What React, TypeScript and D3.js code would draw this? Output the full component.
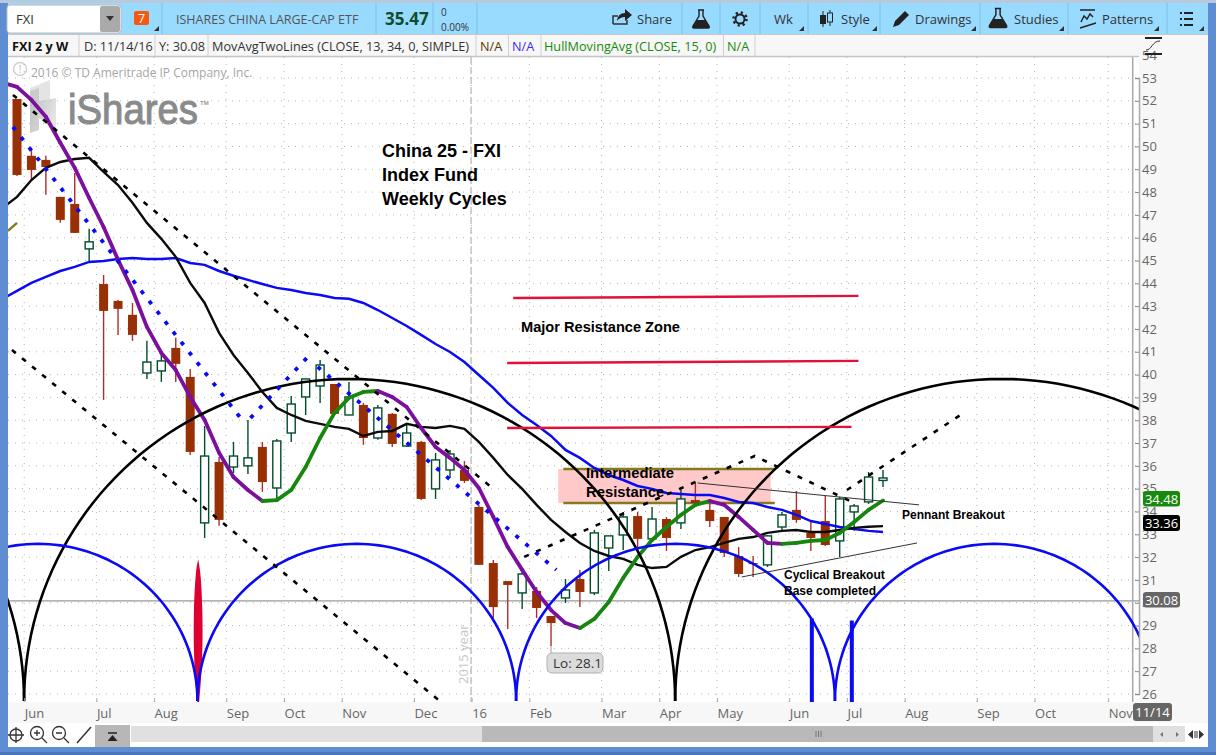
import React, { useEffect, useRef } from 'react';
import * as d3 from 'd3';

// weekly bars, week 0 = first bar on screen
const opens = [52.08,49.59,49.41,47.79,47.48,45.51,43.97,43.23,42.62,40.07,40.16,41.17,39.90,33.50,36.17,35.95,36.00,36.83,35.03,37.44,39.02,39.50,39.59,38.23,38.67,37.22,38.28,36.87,37.05,34.99,35.82,35.82,34.20,31.74,30.95,30.43,30.52,29.42,30.21,31.04,30.43,32.40,32.97,33.80,32.80,33.67,33.50,34.50,34.07,33.76,32.05,31.74,31.66,33.32,34.07,33.06,33.58,32.71,33.98,34.42,35.36];
const highs = [52.08,49.89,49.59,47.79,48.84,46.39,44.37,43.27,43.14,41.48,40.95,41.61,40.25,37.75,36.39,37.05,38.01,37.05,37.18,39.06,39.81,40.64,39.59,39.68,38.76,38.67,38.32,37.84,37.09,36.57,36.70,36.21,34.29,31.87,30.95,31.44,30.69,29.42,31.04,31.44,33.19,32.93,33.98,33.98,34.20,33.76,35.07,35.25,34.50,33.76,32.44,32.05,32.97,33.98,34.90,33.54,34.68,34.64,34.33,35.73,35.82];
const lows = [48.71,48.53,47.88,46.65,46.21,44.94,38.89,41.74,41.48,39.81,39.68,39.68,36.48,32.84,33.37,35.69,35.64,34.86,34.42,37.05,38.23,38.76,38.28,38.23,36.92,37.14,36.83,36.83,34.50,34.55,35.47,35.25,31.66,29.33,28.85,29.73,29.33,28.10,29.99,29.81,30.34,31.39,32.31,32.40,32.80,32.27,33.23,34.37,33.32,32.01,31.13,31.13,31.57,33.10,33.50,32.27,32.49,32.01,33.15,34.33,35.07];
const closes = [48.75,48.97,49.10,46.78,46.21,45.82,42.79,42.88,41.74,40.55,40.60,40.47,36.61,36.43,33.63,36.43,36.35,35.29,37.09,38.71,39.81,40.42,38.28,39.02,37.22,38.54,36.96,37.44,34.55,36.26,36.52,35.34,31.66,29.81,30.78,31.26,29.77,29.11,30.56,30.47,33.06,32.93,33.76,32.80,33.67,32.84,34.55,34.37,33.58,32.18,31.26,31.70,32.93,33.85,33.63,32.84,32.53,34.55,34.24,35.51,35.47];

// studies start one week before the first bar
const hullValues = [52.79,52.61,52.04,51.30,50.16,49.06,47.74,46.47,45.03,43.71,42.09,40.95,40.20,39.02,38.01,36.57,35.51,34.94,34.46,34.50,34.94,35.95,37.22,38.32,38.98,39.24,39.28,39.02,38.58,37.66,36.83,36.35,35.82,35.03,33.76,32.44,31.44,30.47,29.68,29.11,28.89,29.29,30.03,31.09,32.01,32.75,33.32,33.85,34.29,34.46,34.29,33.76,33.19,32.62,32.58,32.62,32.71,32.75,33.06,33.54,34.07,34.48];
const ma13Values = [47.31,47.79,48.53,49.06,49.32,49.45,49.50,48.88,48.31,47.53,46.65,45.95,45.16,44.02,43.14,41.83,40.86,40.07,39.24,38.54,38.23,37.97,37.84,37.71,37.62,37.31,37.49,37.53,37.84,37.71,37.66,37.75,37.62,37.05,36.35,35.60,34.99,34.29,33.63,33.10,32.62,32.27,32.05,31.92,31.66,31.52,31.57,32.01,32.31,32.44,32.62,32.80,32.88,33.06,33.15,33.19,33.10,33.10,33.19,33.28,33.33,33.36];
const ma34Values = [43.32,43.67,44.02,44.28,44.54,44.72,44.94,44.98,45.07,45.11,45.07,45.07,45.11,44.89,44.81,44.54,44.33,44.15,43.97,43.80,43.71,43.58,43.49,43.36,43.32,43.14,42.83,42.48,42.13,41.74,41.34,40.99,40.55,39.98,39.42,38.76,38.23,37.79,37.31,36.70,36.35,35.91,35.60,35.38,35.12,34.99,34.81,34.77,34.72,34.72,34.59,34.42,34.37,34.20,34.07,33.85,33.58,33.45,33.32,33.23,33.15,33.10];

const priceTicks = d3.range(26, 55);
const monthWeeks = [0.5,5.5,9.5,14.5,18.5,22.5,27.5,31.5,35.5,40.5,44.5,48.5,53.5,57.5,61.5,66.5,70.5,75.6];
const monthLabels = ['Jun','Jul','Aug','Sep','Oct','Nov','Dec','16','Feb','Mar','Apr','May','Jun','Jul','Aug','Sep','Oct','Nov'];

// drawings, as [week, price]
const channelUpper = [[-0.28,52.26],[32.85,35.07]];
const channelLower = [[-0.35,41.08],[29.38,25.65]];
const dashedTent = [[35.14,32.01],[51.11,36.43],[57.85,34.42]];
const dashedBreakout = [[57.5,34.94],[65.49,38.28]];
const dottedDown = [[-0.28,50.86],[15.49,38.10]];
const dottedUp = [[16.18,38.10],[20.14,40.77]];
const dottedDown2 = [[20.83,40.34],[37.36,31.44]];
const pennantTop = [[47.15,35.25],[62.5,34.29]];
const pennantBottom = [[50.21,31.13],[62.36,32.62]];
const oliveStub = [[-0.63,46.30],[0,46.65]];
const resistanceLines = [
  [[34.38,43.36],[58.3,43.45]],
  [[33.96,40.51],[58.3,40.60]],
  [[33.96,37.66],[57.82,37.71]],
];
const zoneWeeks = [37.5, 52.22];
const zoneEdgeWeeks = [37.85, 52.5];
const zonePrices = [35.86, 34.37];

// cycles: trough weeks, top of arc in price
const arcBase = 25.69;
const blueTroughs = [-9.58, 12.5, 34.58, 56.67, 78.75];
const bluePeak = 32.58;
const blackTroughs = [-44.6, 0.49, 45.6, 90.8];
const blackPeak = 39.81;
// cycle low markers: week, top price
const blueSpikes = [[55.07,29.31],[57.84,29.22]];
const redSpike = [12.55,31.9];

const yearLineWeek = 31.46;
const crossPrice = 30.08;
const lowWeek = 37;
const lowPrice = 28.1;
const lastWeek = 77.3;

const uiFont = '"Open Sans", sans-serif';
const noteFont = '"Liberation Sans", Arial, sans-serif';

const Triangle = ({ x, y }: { x: number; y: number }) => (
  <path d={`M${x},${y} l5,0 l0,-5 z`} fill="#333" />
);

const Flask = ({ x, y, s = 1 }: { x: number; y: number; s?: number }) => (
  <g transform={`translate(${x},${y}) scale(${s})`}>
    <path d="M-3,-9 h6 M-2,-9 v6 l-6,10 q-1,2 1,2 h14 q2,0 1,-2 l-6,-10 v-6" fill="none" stroke="#222" strokeWidth={1.4} />
    <path d="M-4,1 h8 l4,6 q1,2 -1,2 h-14 q-2,0 -1,-2 z" fill="#222" />
  </g>
);

export default function App() {
  const gRef = useRef<SVGGElement>(null);

  useEffect(() => {
    if (!gRef.current) return;
    const root = d3.select(gRef.current);
    root.selectAll('*').remove();

    const x = d3.scaleLinear().domain([0, 60]).range([17, 883]);
    const y = d3.scaleLinear().domain([26, 53]).range([694, 78]);
    const plot = root.append('g').attr('clip-path', 'url(#plot-clip)');

    // dotted grid
    plot.append('g').selectAll('line').data(priceTicks).join('line')
      .attr('x1', 8).attr('x2', 1139)
      .attr('y1', d => y(d)).attr('y2', d => y(d))
      .attr('stroke', '#b5b5b5').attr('stroke-dasharray', '1,6');
    plot.append('g').selectAll('line').data(monthWeeks).join('line')
      .attr('x1', d => x(d)).attr('x2', d => x(d))
      .attr('y1', 57).attr('y2', 702)
      .attr('stroke', '#b5b5b5').attr('stroke-dasharray', '1,6');

    // year divider
    plot.append('line')
      .attr('x1', x(yearLineWeek)).attr('x2', x(yearLineWeek))
      .attr('y1', 57).attr('y2', 702)
      .attr('stroke', '#c4c4c4').attr('stroke-width', 1.5).attr('stroke-dasharray', '7,3');
    plot.append('text')
      .attr('transform', `translate(${x(yearLineWeek) - 3},684) rotate(-90)`)
      .attr('font-family', uiFont).attr('font-size', 13).attr('fill', '#c6c6c6')
      .text('2015 year');

    // crosshair
    plot.append('line')
      .attr('x1', 8).attr('x2', 1139)
      .attr('y1', y(crossPrice)).attr('y2', y(crossPrice))
      .attr('stroke', '#9a9a9a').attr('stroke-width', 1.3);
    plot.append('line')
      .attr('x1', x(lastWeek)).attr('x2', x(lastWeek))
      .attr('y1', 57).attr('y2', 702)
      .attr('stroke', '#a8a8a8').attr('stroke-width', 1.5);

    const pt = d3.line<number[]>().x(d => x(d[0])).y(d => y(d[1]));

    // resistance zone
    plot.append('rect')
      .attr('x', x(zoneWeeks[0])).attr('width', x(zoneWeeks[1]) - x(zoneWeeks[0]))
      .attr('y', y(zonePrices[0])).attr('height', y(zonePrices[1]) - y(zonePrices[0]))
      .attr('fill', '#ffc9c9');
    zonePrices.forEach(p => {
      plot.append('path')
        .attr('d', pt(zoneEdgeWeeks.map(w => [w, p])))
        .attr('stroke', '#857a1e').attr('stroke-width', 2.4).attr('fill', 'none');
    });

    // candles
    const weeks = d3.range(opens.length);
    const isUp = (i: number) => closes[i] > opens[i];
    plot.append('g').selectAll('line').data(weeks).join('line')
      .attr('x1', i => x(i)).attr('x2', i => x(i))
      .attr('y1', i => y(highs[i])).attr('y2', i => y(lows[i]))
      .attr('stroke', i => (isUp(i) ? '#004d29' : '#b02c2c')).attr('stroke-width', 1.4);
    plot.append('g').selectAll('rect').data(weeks).join('rect')
      .attr('x', i => x(i) - (isUp(i) ? 4 : 4.5))
      .attr('width', i => (isUp(i) ? 8 : 9))
      .attr('y', i => y(Math.max(opens[i], closes[i])))
      .attr('height', i => Math.max(1, Math.abs(y(opens[i]) - y(closes[i]))))
      .attr('fill', i => (isUp(i) ? '#fff' : '#993005'))
      .attr('stroke', i => (isUp(i) ? '#004d29' : 'none'))
      .attr('stroke-width', 1.4);

    // moving averages
    const study = d3.line<number>().x((_, i) => x(i - 1)).y(d => y(d));
    plot.append('path').attr('d', study(ma34Values))
      .attr('fill', 'none').attr('stroke', '#0a0af5').attr('stroke-width', 2.5);
    plot.append('path').attr('d', study(ma13Values))
      .attr('fill', 'none').attr('stroke', '#0c0c0c').attr('stroke-width', 2.4);

    // hull: green while rising, purple while falling
    plot.append('g').selectAll('path').data(d3.range(hullValues.length - 1)).join('path')
      .attr('d', i => pt([[i - 1, hullValues[i]], [i, hullValues[i + 1]]]))
      .attr('fill', 'none').attr('stroke-linecap', 'round').attr('stroke-width', 3.8)
      .attr('stroke', i => (hullValues[i + 1] > hullValues[i] ? '#17860e' : '#7b0f9e'));

    // cycle markers
    const lens = d3.area<number>()
      .x0(d => x(redSpike[0]) - d[1]).x1(d => x(redSpike[0]) + d[1])
      .y(d => d[0]).curve(d3.curveBasis) as any;
    plot.append('path')
      .attr('d', lens([[y(redSpike[1]), 0], [y(redSpike[1]) + 12, 2.5], [y(redSpike[1]) + 50, 4.5], [y(redSpike[1]) + 90, 4.5], [y(redSpike[1]) + 120, 3], [702, 1]]))
      .attr('fill', '#dd0030');
    plot.append('g').selectAll('rect').data(blueSpikes).join('rect')
      .attr('x', d => x(d[0]) - 2).attr('width', 4)
      .attr('y', d => y(d[1])).attr('height', d => 702 - y(d[1]))
      .attr('fill', '#0a0af5');

    // cycle arcs
    const angles = d3.range(0, 181, 2).map(d => (d * Math.PI) / 180);
    const arcPath = (trough: number, period: number, peak: number) =>
      pt(angles.map(a => [
        trough + (period / 2) * (1 - Math.cos(a)),
        arcBase + (peak - arcBase) * Math.sin(a),
      ]));
    blackTroughs.slice(0, -1).forEach((t, i) => {
      plot.append('path').attr('d', arcPath(t, blackTroughs[i + 1] - t, blackPeak))
        .attr('fill', 'none').attr('stroke', '#000').attr('stroke-width', 2.6);
    });
    blueTroughs.slice(0, -1).forEach((t, i) => {
      plot.append('path').attr('d', arcPath(t, blueTroughs[i + 1] - t, bluePeak))
        .attr('fill', 'none').attr('stroke', '#0a0af5').attr('stroke-width', 2.6);
    });

    // drawings
    [channelUpper, channelLower, dashedTent, dashedBreakout].forEach(d => {
      plot.append('path').attr('d', pt(d))
        .attr('fill', 'none').attr('stroke', '#000').attr('stroke-width', 2.6)
        .attr('stroke-dasharray', '5,8');
    });
    [dottedDown, dottedUp, dottedDown2].forEach(d => {
      plot.append('path').attr('d', pt(d))
        .attr('fill', 'none').attr('stroke', '#0a0af5').attr('stroke-width', 3.8)
        .attr('stroke-dasharray', '4,9');
    });
    [pennantTop, pennantBottom].forEach(d => {
      plot.append('path').attr('d', pt(d)).attr('fill', 'none').attr('stroke', '#333').attr('stroke-width', 1);
    });
    plot.append('path').attr('d', pt(oliveStub)).attr('fill', 'none').attr('stroke', '#857a1e').attr('stroke-width', 2.4);
    resistanceLines.forEach(d => {
      plot.append('path').attr('d', pt(d)).attr('fill', 'none').attr('stroke', '#e3103a').attr('stroke-width', 2.4);
    });

    // low bubble
    plot.append('line')
      .attr('x1', x(lowWeek)).attr('x2', x(lowWeek))
      .attr('y1', y(lowPrice)).attr('y2', 654)
      .attr('stroke', '#a0a0a0');

    // axes
    const yAxis = d3.axisRight(y).tickValues(priceTicks).tickSize(-4).tickPadding(3).tickFormat(d3.format('d') as any);
    const yg = root.append('g').attr('transform', 'translate(1139,0)').call(yAxis);
    yg.select('.domain').attr('stroke', '#a9a9a9').attr('stroke-width', 1.5);
    yg.selectAll('line').attr('stroke', '#888');
    yg.selectAll('text').attr('font-family', uiFont).attr('font-size', 13).attr('fill', '#666');

    const xAxis = d3.axisBottom(x).tickValues(monthWeeks).tickSize(-4).tickFormat((_, i) => monthLabels[i]);
    const xg = root.append('g').attr('transform', 'translate(0,702)').call(xAxis);
    xg.select('.domain').remove();
    xg.selectAll('line').attr('stroke', '#aaa');
    xg.selectAll('text')
      .attr('font-family', uiFont).attr('font-size', 13).attr('fill', '#666')
      .attr('text-anchor', 'start').attr('y', 7);
  }, []);

  const note = { fontFamily: noteFont, fontWeight: 700, fill: '#000' } as const;
  const bar = { fontFamily: uiFont, fontSize: 13, fill: '#333' } as const;

  return (
    <svg width={1216} height={755} style={{ position: 'absolute', left: 0, top: 0, display: 'block' }}>
      <defs>
        <clipPath id="plot-clip"><rect x={8} y={57} width={1131} height={645} /></clipPath>
        <linearGradient id="logo-fade" x1="0" y1="0" x2="1" y2="0.4">
          <stop offset="0%" stopColor="#bdbdbd" />
          <stop offset="100%" stopColor="#e4e4e4" />
        </linearGradient>
      </defs>

      {/* frame */}
      <rect width={1216} height={755} fill="#5f8dd3" />
      <rect x={0} y={0} width={1216} height={3} fill="#b9c9dc" />
      <rect x={8} y={3} width={1200} height={744} fill="#f7f7f7" />
      <rect x={8} y={57} width={1131} height={645} fill="#fff" />
      <rect x={0} y={752} width={1216} height={3} fill="#4a76b8" />

      {/* watermark */}
      <g>
        <text x={31} y={77} fontFamily={uiFont} fontSize={12} fill="#a5a5a5">2016 © TD Ameritrade IP Company, Inc.</text>
        <circle cx={20} cy={69} r={6.5} fill="none" stroke="#cfcfcf" strokeWidth={1.4} />
        <text x={20} y={73} textAnchor="middle" fontFamily={uiFont} fontSize={10} fill="#bbb">!</text>
        <polygon points="30,88 50,80 50,100 30,105" fill="#e4e4e4" />
        <polygon points="30,91 39,88 39,130 30,133" fill="#c4c4c4" opacity={0.8} />
        <polygon points="30,103 56,98 56,133 40,118 30,133" fill="url(#logo-fade)" />
        <text x={68} y={124} fontFamily={noteFont} fontSize={43} fill="#8a8a8a" stroke="#8a8a8a" strokeWidth={1.1} textLength={130} lengthAdjust="spacingAndGlyphs">iShares</text>
        <text x={200} y={105} fontFamily={noteFont} fontSize={6} fontWeight={700} fill="#9a9a9a">TM</text>
      </g>

      {/* chart marks + axes go here */}
      <g ref={gRef} />

      {/* notes */}
      <g style={note} fontSize={18}>
        <text x={382} y={157}>China 25 - FXI</text>
        <text x={382} y={181}>Index Fund</text>
        <text x={382} y={205}>Weekly Cycles</text>
      </g>
      <text x={521} y={332} style={note} fontSize={14.6}>Major Resistance Zone</text>
      <text x={586} y={478} style={note} fontSize={14.8}>Intermediate</text>
      <text x={586} y={497} style={note} fontSize={14.8}>Resistance</text>
      <text x={902} y={519} style={note} fontSize={12}>Pennant Breakout</text>
      <text x={784} y={579} style={note} fontSize={12}>Cyclical Breakout</text>
      <text x={784} y={595} style={note} fontSize={12}>Base completed</text>

      {/* low bubble */}
      <rect x={547} y={653} width={56} height={20} rx={5} fill="#dcdcdc" stroke="#b0b0b0" />
      <text x={553} y={668} fontFamily={uiFont} fontSize={13.5} fill="#333">Lo: 28.1</text>

      {/* price tags */}
      <rect x={1143} y={491} width={37} height={15.5} rx={3} fill="#178a0e" />
      <text x={1161.5} y={503.5} textAnchor="middle" fontFamily={uiFont} fontSize={13} fill="#fff">34.48</text>
      <rect x={1143} y={515} width={37} height={16} rx={3} fill="#000" />
      <text x={1161.5} y={527.5} textAnchor="middle" fontFamily={uiFont} fontSize={13} fill="#fff">33.36</text>
      <rect x={1143} y={592} width={37} height={15.5} rx={3} fill="#666" />
      <text x={1161.5} y={604.5} textAnchor="middle" fontFamily={uiFont} fontSize={13} fill="#fff">30.08</text>
      <rect x={1133} y={703} width={39} height={18} rx={3} fill="#666" />
      <text x={1152.5} y={717} textAnchor="middle" fontFamily={uiFont} fontSize={13} fill="#fff">11/14</text>

      {/* top toolbar */}
      <rect x={8} y={3} width={1200} height={31} fill="#99daff" />
      <rect x={7} y={5} width={114} height={28} rx={3} fill="#fff" stroke="#bbb" />
      <rect x={100} y={6} width={20} height={26} rx={2} fill="#aaa" />
      <path d="M106,16 h8 l-4,5 z" fill="#333" />
      <text x={16} y={24} fontFamily={uiFont} fontSize={13} fill="#333">FXI</text>
      <rect x={134} y={11} width={15} height={14} rx={2} fill="#f4590f" />
      <text x={141.5} y={23} textAnchor="middle" fontFamily={uiFont} fontSize={13} fill="#fff">7</text>
      <Triangle x={154} y={31} />
      <text x={176} y={24} fontFamily={uiFont} fontSize={12.5} fill="#555">ISHARES CHINA LARGE-CAP ETF</text>
      <text x={385} y={25} fontFamily={uiFont} fontSize={17} fontWeight={700} fill="#0e4d2c">35.47</text>
      <text x={441} y={16} fontFamily={uiFont} fontSize={10} fill="#333">0</text>
      <text x={441} y={31} fontFamily={uiFont} fontSize={10} fill="#333">0.00%</text>
      {[162, 376, 433, 477, 682, 720, 760, 808, 880, 980, 1068, 1167].map(sx => (
        <line key={sx} x1={sx} x2={sx} y1={3} y2={34} stroke="#7fc0e6" />
      ))}
      <line x1={8} x2={1208} y1={34.5} y2={34.5} stroke="#c8c8c8" />

      <path d="M613,24 v-8 h5 M613,24 h14 v-4" fill="none" stroke="#333" strokeWidth={1.5} />
      <path d="M617,21 q1,-8 8,-8 v-4 l7,6 l-7,6 v-4 q-5,0 -8,4 z" fill="#222" />
      <text x={637} y={24} style={bar}>Share</text>
      <Flask x={701} y={19} s={1} />
      <circle cx={740} cy={19} r={4.5} fill="none" stroke="#222" strokeWidth={2} />
      <circle cx={740} cy={19} r={6.5} fill="none" stroke="#222" strokeWidth={2.5} strokeDasharray="2.2,2.9" />
      <text x={774} y={24} style={bar}>Wk</text>
      <Triangle x={799} y={31} />
      <line x1={823} x2={823} y1={11} y2={27} stroke="#222" />
      <rect x={820} y={15} width={6} height={9} fill="#222" />
      <line x1={830} x2={830} y1={10} y2={26} stroke="#222" />
      <rect x={827.5} y={13} width={5} height={9} fill="#99daff" stroke="#222" />
      <text x={841} y={24} style={bar}>Style</text>
      <Triangle x={872} y={31} />
      <path d="M893,27 l2,-6 l10,-10 l4,4 l-10,10 z" fill="#222" />
      <text x={915} y={24} style={bar}>Drawings</text>
      <Triangle x={971} y={31} />
      <Flask x={998} y={18} s={1.05} />
      <text x={1014} y={24} style={bar}>Studies</text>
      <Triangle x={1059} y={31} />
      <path d="M1080,10 h15 M1081,22 l3,-6 l3,3 l3,-5 l3,3 M1080,28 l16,-5" fill="none" stroke="#222" strokeWidth={1.4} />
      <text x={1102} y={24} style={bar}>Patterns</text>
      <Triangle x={1154} y={31} />
      <path d="M1184,13 h9 M1184,19 h9 M1184,25 h9" stroke="#222" strokeWidth={2} />
      <path d="M1180,13 h2 M1180,19 h2 M1180,25 h2" stroke="#222" strokeWidth={2} />
      <Triangle x={1199} y={31} />

      {/* study row */}
      <rect x={8} y={35} width={1131} height={21} fill="#f7f7f7" />
      <line x1={8} x2={1139} y1={56.5} y2={56.5} stroke="#c4c4c4" strokeWidth={1.5} />
      {[79, 155, 208, 476, 508.5, 541, 723.5, 755].map(sx => (
        <line key={sx} x1={sx} x2={sx} y1={35} y2={56} stroke="#d0d0d0" />
      ))}
      <g fontFamily={uiFont} fontSize={12.7}>
        <text x={12} y={51} fontWeight={700} fill="#111">FXI 2 y W</text>
        <text x={84} y={51} fill="#333">D: 11/14/16</text>
        <text x={159} y={51} fill="#333">Y: 30.08</text>
        <text x={212} y={51} fill="#333">MovAvgTwoLines (CLOSE, 13, 34, 0, SIMPLE)</text>
        <text x={480} y={51} fill="#5a3a00">N/A</text>
        <text x={512} y={51} fill="#3a2cf0">N/A</text>
        <text x={544} y={51} fill="#178a0e">HullMovingAvg (CLOSE, 15, 0)</text>
        <text x={727} y={51} fill="#178a0e">N/A</text>
      </g>
      <path d="M1145,38 h17 M1145,54 h17" stroke="#222" strokeWidth={2} />
      <path d="M1146,50 c6,0 6,-9 14,-9" fill="none" stroke="#333" />

      {/* bottom bar */}
      <rect x={8} y={723} width={1200} height={24} fill="#fff" />
      <g fill="none" stroke="#333" strokeWidth={1.3}>
        <circle cx={16} cy={735} r={6} />
        <path d="M16,727 v16 M8,735 h16" />
        <circle cx={37} cy={733} r={6.5} />
        <path d="M42,738 l5,5 M34,733 h6 M37,730 v6" />
        <circle cx={59} cy={733} r={6.5} />
        <path d="M64,738 l5,5 M56,733 h6" />
        <path d="M77,743 l14,-16" strokeWidth={1.5} />
      </g>
      <rect x={95} y={725} width={35} height={22} fill="#b7b7b7" />
      <path d="M108,733 h9" stroke="#222" strokeWidth={1.5} />
      <path d="M112.5,735 l5,6 h-10 z" fill="#222" />
      <rect x={131} y={726} width={1054} height={16} fill="#e0e0e0" />
      <rect x={482} y={726} width={671} height={16} fill="#b9b9b9" />
      <path d="M816,731 v6 M818.5,731 v6 M821,731 v6" stroke="#777" />
      <path d="M1163,732 v5 l-3,-2.5 z M1176,732 v5 l3,-2.5 z" fill="#777" />
      <path d="M1193,730 v9 l-5,-4.5 z M1199,730 v9 l5,-4.5 z" fill="#333" />
      <path d="M1195,731 v7 M1197,731 v7" stroke="#333" />
    </svg>
  );
}
